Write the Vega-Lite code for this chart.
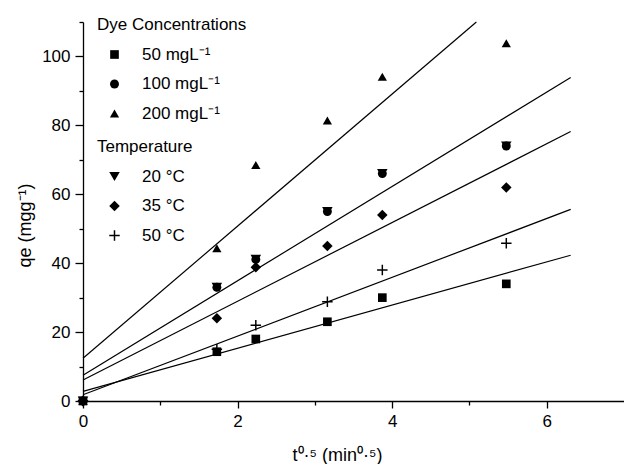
{
  "$schema": "https://vega.github.io/schema/vega-lite/v6.json",
  "width": 541,
  "height": 379,
  "autosize": "none",
  "padding": {"left": 83, "top": 22, "right": 0, "bottom": 63},
  "background": "white",
  "config": {
    "view": {"stroke": null},
    "font": "Liberation Sans",
    "axis": {
      "domainColor": "black", "tickColor": "black", "labelColor": "black", "titleColor": "black",
      "grid": false, "labelFont": "Liberation Sans", "titleFont": "Liberation Sans",
      "labelFontSize": 17, "titleFontSize": 18, "titleFontWeight": "normal",
      "domainWidth": 1.3, "tickWidth": 1.3, "labelFlush": false, "labelOverlap": false
    },
    "legend": {
      "titleFont": "Liberation Sans", "labelFont": "Liberation Sans",
      "titleFontSize": 17, "labelFontSize": 17, "titleFontWeight": "normal",
      "titleColor": "black", "labelColor": "black",
      "symbolOffset": 9, "labelOffset": 19,
      "rowPadding": 11.5, "titlePadding": 12, "padding": 0,
      "symbolFillColor": "black", "symbolStrokeWidth": 0, "symbolType": "square"
    }
  },
  "datasets": {
    "lines": [
      {"fit": "200 mgL", "x": 0, "y": 12.4},
      {"fit": "200 mgL", "x": 5.09, "y": 110},
      {"fit": "100 mgL / 20 C", "x": 0, "y": 7.5},
      {"fit": "100 mgL / 20 C", "x": 6.31, "y": 93.9},
      {"fit": "35 C", "x": 0, "y": 6.1},
      {"fit": "35 C", "x": 6.31, "y": 78.2},
      {"fit": "50 C", "x": 0, "y": 1.8},
      {"fit": "50 C", "x": 6.31, "y": 55.6},
      {"fit": "50 mgL", "x": 0, "y": 2.8},
      {"fit": "50 mgL", "x": 6.31, "y": 42.3}
    ],
    "dye": [
      {"series": "\u200750 mgL\u207b\u00b9", "x": 0, "y": 0},
      {"series": "\u200750 mgL\u207b\u00b9", "x": 1.732, "y": 14.3},
      {"series": "\u200750 mgL\u207b\u00b9", "x": 2.236, "y": 18},
      {"series": "\u200750 mgL\u207b\u00b9", "x": 3.162, "y": 23},
      {"series": "\u200750 mgL\u207b\u00b9", "x": 3.873, "y": 30},
      {"series": "\u200750 mgL\u207b\u00b9", "x": 5.477, "y": 34},
      {"series": "100 mgL\u207b\u00b9", "x": 0, "y": 0},
      {"series": "100 mgL\u207b\u00b9", "x": 1.732, "y": 33},
      {"series": "100 mgL\u207b\u00b9", "x": 2.236, "y": 41.1},
      {"series": "100 mgL\u207b\u00b9", "x": 3.162, "y": 55},
      {"series": "100 mgL\u207b\u00b9", "x": 3.873, "y": 66},
      {"series": "100 mgL\u207b\u00b9", "x": 5.477, "y": 74},
      {"series": "200 mgL\u207b\u00b9", "x": 0, "y": 0},
      {"series": "200 mgL\u207b\u00b9", "x": 1.732, "y": 44.3},
      {"series": "200 mgL\u207b\u00b9", "x": 2.236, "y": 68.5},
      {"series": "200 mgL\u207b\u00b9", "x": 3.162, "y": 81.4},
      {"series": "200 mgL\u207b\u00b9", "x": 3.873, "y": 94.1},
      {"series": "200 mgL\u207b\u00b9", "x": 5.477, "y": 103.8}
    ],
    "temp": [
      {"series": "20 \u00b0C", "x": 0, "y": 0},
      {"series": "20 \u00b0C", "x": 1.732, "y": 33},
      {"series": "20 \u00b0C", "x": 2.236, "y": 41.1},
      {"series": "20 \u00b0C", "x": 3.162, "y": 55},
      {"series": "20 \u00b0C", "x": 3.873, "y": 66},
      {"series": "20 \u00b0C", "x": 5.477, "y": 74},
      {"series": "35 \u00b0C", "x": 0, "y": 0},
      {"series": "35 \u00b0C", "x": 1.732, "y": 24},
      {"series": "35 \u00b0C", "x": 2.236, "y": 38.8},
      {"series": "35 \u00b0C", "x": 3.162, "y": 45},
      {"series": "35 \u00b0C", "x": 3.873, "y": 54},
      {"series": "35 \u00b0C", "x": 5.477, "y": 62},
      {"series": "50 \u00b0C", "x": 0, "y": 0},
      {"series": "50 \u00b0C", "x": 1.732, "y": 15},
      {"series": "50 \u00b0C", "x": 2.236, "y": 22},
      {"series": "50 \u00b0C", "x": 3.162, "y": 28.8},
      {"series": "50 \u00b0C", "x": 3.873, "y": 38},
      {"series": "50 \u00b0C", "x": 5.477, "y": 45.8}
    ]
  },
  "layer": [
    {
      "data": {"name": "lines"},
      "mark": {"type": "line", "color": "black", "strokeWidth": 1.2},
      "encoding": {
        "x": {"field": "x", "type": "quantitative", "scale": {"domain": [0, 7], "nice": false},
          "axis": {"orient": "bottom", "values": [0, 2, 4, 6], "tickSize": 7, "labelPadding": 5,
            "title": "t\u2070\u00b7\u2075 (min\u2070\u00b7\u2075)", "titleX": 254, "titleY": 59,
            "titleBaseline": "alphabetic", "titleAlign": "center"}},
        "y": {"field": "y", "type": "quantitative", "scale": {"domain": [0, 110], "nice": false},
          "axis": {"orient": "left", "values": [0, 20, 40, 60, 80, 100], "tickSize": 8, "labelPadding": 5,
            "title": "qe (mgg\u207b\u00b9)", "titleX": -58, "titleY": 203, "titleAngle": -90,
            "titleBaseline": "middle", "titleAlign": "center"}},
        "detail": {"field": "fit", "type": "nominal"}
      }
    },
    {
      "data": {"name": "temp"},
      "mark": {"type": "point", "filled": true, "color": "black", "opacity": 1},
      "encoding": {
        "x": {"field": "x", "type": "quantitative",
          "axis": {"orient": "bottom", "values": [1, 3, 5], "tickSize": 4, "labels": false, "domain": false, "title": null}},
        "y": {"field": "y", "type": "quantitative",
          "axis": {"orient": "left", "values": [10, 30, 50, 70, 90, 110], "tickSize": 4, "labels": false, "domain": false, "title": null}},
        "shape": {"field": "series", "type": "nominal",
          "scale": {"domain": ["20 \u00b0C", "35 \u00b0C", "50 \u00b0C"],
            "range": ["triangle-down", "diamond", "M-1,-0.14H-0.14V-1H0.14V-0.14H1V0.14H0.14V1H-0.14V0.14H-1Z"]},
          "legend": {"title": "Temperature", "orient": "none", "legendX": 14, "legendY": 117}},
        "size": {"field": "series", "type": "nominal",
          "scale": {"domain": ["20 \u00b0C", "35 \u00b0C", "50 \u00b0C"], "range": [110, 110, 85]},
          "legend": {"title": "Temperature", "orient": "none", "legendX": 14, "legendY": 117}}
      }
    },
    {
      "data": {"name": "dye"},
      "mark": {"type": "point", "filled": true, "color": "black", "opacity": 1},
      "encoding": {
        "x": {"field": "x", "type": "quantitative", "axis": null},
        "y": {"field": "y", "type": "quantitative", "axis": null},
        "shape": {"field": "series", "type": "nominal",
          "scale": {"domain": ["\u200750 mgL\u207b\u00b9", "100 mgL\u207b\u00b9", "200 mgL\u207b\u00b9"],
            "range": ["square", "circle", "triangle-up"]},
          "legend": {"title": "Dye Concentrations", "orient": "none", "legendX": 14, "legendY": -5}},
        "size": {"field": "series", "type": "nominal",
          "scale": {"domain": ["\u200750 mgL\u207b\u00b9", "100 mgL\u207b\u00b9", "200 mgL\u207b\u00b9"], "range": [75, 85, 130]},
          "legend": {"title": "Dye Concentrations", "orient": "none", "legendX": 14, "legendY": -5}}
      }
    }
  ],
  "resolve": {
    "axis": {"x": "independent", "y": "independent"},
    "scale": {"shape": "independent", "size": "independent"},
    "legend": {"shape": "independent", "size": "independent"}
  }
}
